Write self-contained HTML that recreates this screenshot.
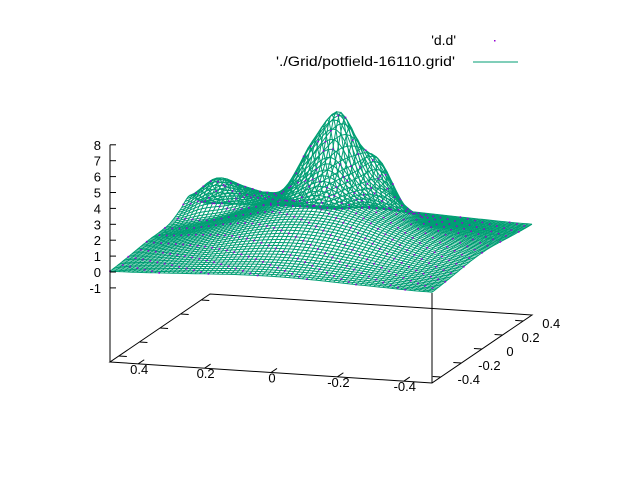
<!DOCTYPE html>
<html><head><meta charset="utf-8"><style>
html,body{margin:0;padding:0;background:#fff}
svg{display:block}
text{font-family:"Liberation Sans",sans-serif;font-size:13px;fill:#000}
</style></head><body>
<svg id="chart" width="640" height="480" viewBox="0 0 640 480">
<g id="base"></g>
<g id="mesh"></g>
<g id="pts"></g>
<g id="axes"></g>
<g>
<text x="456" y="45" text-anchor="end" style="font-size:14px">'d.d'</text>
<rect x="494" y="40" width="1.5" height="1.5" fill="#9400d3"/>
<text x="276" y="66" textLength="179" lengthAdjust="spacingAndGlyphs" style="font-size:14px">'./Grid/potfield-16110.grid'</text>
<line x1="473" y1="62" x2="518" y2="62" stroke="#009e73" stroke-width="1"/>
</g>
</svg>
<script>
const colsA = [0,1/12,2/12,3/12,4/12,5/12,6/12,7/12,8/12,9/12,10/12,11/12,1];
const rowsB = [0,0.1,0.2,0.3,0.4,0.5,0.6,0.7,0.8,0.9,1];
const zRow0  = [.05,.09,.16,.23,.31,.37,.39,.37,.31,.23,.16,.09,.05];
const zRow1  = [.11,.19,.33,.49,.65,.77,.81,.77,.65,.49,.33,.19,.11];
const zRow2  = [.19,.35,.58,.86,1.15,1.36,1.44,1.36,1.15,.86,.58,.35,.19];
const zRow3  = [.28,.52,.87,1.30,1.73,2.04,2.16,2.04,1.73,1.30,.87,.52,.28];
const zRow4  = [.36,.66,1.12,1.66,2.21,2.61,2.76,2.61,2.21,1.66,1.12,.66,.36];
const zRow5  = [.39,.72,1.22,1.8,2.4,3.1,3.6,3.0,2.4,1.8,1.22,.72,.39];
const zRow6  = [.5,.9,1.3,1.9,2.6,4.1,5.3,3.5,2.5,1.66,1.12,.66,.36];
const zRow7  = [.9,1.8,2.0,2.3,2.8,5.9,7.7,4.2,2.6,1.30,.87,.52,.28];
const zRow8  = [1.4,2.6,2.2,1.8,1.6,2.9,3.9,4.5,1.6,.86,.58,.35,.19];
const zRow9  = [.6,1.4,1.1,.8,.7,.8,1.4,1.2,.65,.49,.33,.19,.11];
const zRow10 = [.05,.09,.16,.23,.31,.37,.39,.37,.31,.23,.16,.09,.05];
const zGrid = [zRow0,zRow1,zRow2,zRow3,zRow4,zRow5,zRow6,zRow7,zRow8,zRow9,zRow10];
const zTicks = [-1,0,1,2,3,4,5,6,7,8];
const xTicks = [0.4,0.2,0,-0.2,-0.4];
const yTicks = [-0.4,-0.2,0,0.2,0.4];

const NS="http://www.w3.org/2000/svg";
function P(a,b,z){return [110+322*a+100*b, 272+21*a-68*b-15.9*z];}
function cr(p0,p1,p2,p3,t){return 0.5*((2*p1)+(-p0+p2)*t+(2*p0-5*p1+4*p2-p3)*t*t+(-p0+3*p1-3*p2+p3)*t*t*t);}
function G(j,i){j=Math.max(0,Math.min(rowsB.length-1,j));i=Math.max(0,Math.min(colsA.length-1,i));return zGrid[j][i];}
function zAt(u,v){
  const i=Math.min(Math.floor(u),colsA.length-2), j=Math.min(Math.floor(v),rowsB.length-2);
  const fu=u-i, fv=v-j;
  const r=[];
  for(let k=-1;k<=2;k++)r.push(cr(G(j+k,i-1),G(j+k,i),G(j+k,i+1),G(j+k,i+2),fu));
  return cr(r[0],r[1],r[2],r[3],fv);
}
function aAt(u){const i=Math.min(Math.floor(u),colsA.length-2);const f=u-i;return colsA[i]*(1-f)+colsA[i+1]*f;}
function bAt(v){const j=Math.min(Math.floor(v),rowsB.length-2);const f=v-j;return rowsB[j]*(1-f)+rowsB[j+1]*f;}
function mk(tag,parent,attrs){const e=document.createElementNS(NS,tag);for(const k in attrs)e.setAttribute(k,attrs[k]);parent.appendChild(e);return e;}

const SUB=6, nU=(colsA.length-1)*SUB, nV=(rowsB.length-1)*SUB;
const mesh=document.getElementById('mesh');
for(let q=0;q<=nV;q++){
  const v=q/SUB;let d='';
  for(let p=0;p<=nU;p++){const u=p/SUB;const s=P(aAt(u),bAt(v),zAt(u,v));d+=(p?'L':'M')+s[0].toFixed(1)+' '+s[1].toFixed(1);}
  const e=mk('path',mesh,{d:d,fill:'none',stroke:'#009e73','stroke-width':1});
  
  
}
for(let p=0;p<=nU;p++){
  const u=p/SUB;let d='';
  for(let q=0;q<=nV;q++){const v=q/SUB;const s=P(aAt(u),bAt(v),zAt(u,v));d+=(q?'L':'M')+s[0].toFixed(1)+' '+s[1].toFixed(1);}
  const e=mk('path',mesh,{d:d,fill:'none',stroke:'#009e73','stroke-width':1});
  
  
}
const pts=document.getElementById('pts');
for(let q=0;q<=nV;q++)for(let p=0;p<=nU;p++){
  if((p*7+q*3)%11!==0)continue;
  const u=p/SUB,v=q/SUB;const s=P(aAt(u),bAt(v),zAt(u,v));
  const e=mk('rect',pts,{x:(s[0]-0.8).toFixed(1),y:(s[1]-0.8).toFixed(1),width:1.6,height:1.6,fill:'#9400d3'});
  
  
}
const base=document.getElementById('base');
const ZB=-5.66;
const c=[P(0,0,ZB),P(1,0,ZB),P(1,1,ZB),P(0,1,ZB)];
const box=mk('path',base,{d:`M${c[0]}L${c[1]}L${c[2]}L${c[3]}Z`,fill:'none',stroke:'#000','stroke-width':1});


const axes=document.getElementById('axes');
const zt=P(0,0,8), zb=P(0,0,ZB);
let e=mk('line',axes,{x1:zt[0],y1:zt[1],x2:zb[0],y2:zb[1],stroke:'#000'});


const r0=P(1,0,ZB), r1=P(1,0,0);
e=mk('line',axes,{x1:r0[0],y1:r0[1],x2:r1[0],y2:r1[1],stroke:'#000'});


zTicks.forEach(z=>{
  const s=P(0,0,z);
  let t=mk('line',axes,{x1:s[0],y1:s[1],x2:s[0]+6,y2:s[1],stroke:'#000'});
  
  
  t=mk('text',axes,{x:s[0]-9,y:s[1]+5,'text-anchor':'end'});t.textContent=z;
  
  
});
xTicks.forEach(x=>{
  const a=(0.485-x)/0.97;const s=P(a,0,ZB), s2=P(a,0.06,ZB);
  let t=mk('line',axes,{x1:s[0],y1:s[1],x2:s2[0],y2:s2[1],stroke:'#000'});
  
  
  t=mk('text',axes,{x:s[0]+1,y:s[1]+10,'text-anchor':'middle'});t.textContent=x;
  
  
});
yTicks.forEach(y=>{
  const b=(y+0.485)/0.97;
  const l=P(0,b,ZB), l2=P(0.025,b,ZB), r=P(1,b,ZB), r2=P(0.975,b,ZB);
  let t=mk('line',axes,{x1:l[0],y1:l[1],x2:l2[0],y2:l2[1],stroke:'#000'});
  
  
  t=mk('line',axes,{x1:r[0],y1:r[1],x2:r2[0],y2:r2[1],stroke:'#000'});
  
  
  t=mk('text',axes,{x:r[0]+28,y:r[1]+7,'text-anchor':'middle'});t.textContent=y;
  
  
});
</script>
</body></html>
